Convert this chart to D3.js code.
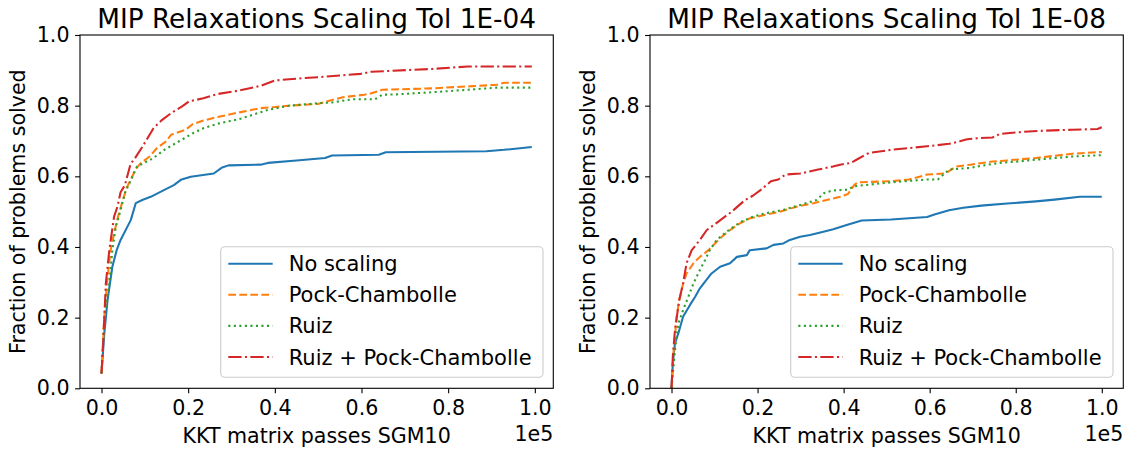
<!DOCTYPE html>
<html>
<head>
<meta charset="utf-8">
<script src="https://cdn.jsdelivr.net/npm/d3@7"></script>
<style>
  body { margin: 0; background: #fff; }
  text { font-family: "DejaVu Sans", sans-serif; }
</style>
</head>
<body>
<svg id="chart" width="1128" height="450"></svg>
<script>
// ---- data -------------------------------------------------------------
const seriesNames = ["No scaling", "Pock-Chambolle", "Ruiz", "Ruiz + Pock-Chambolle"];
const panelTitles = ["MIP Relaxations Scaling Tol 1E-04", "MIP Relaxations Scaling Tol 1E-08"];
const xTicks = [0, 20000, 40000, 60000, 80000, 100000];
const yTicks = [0, 0.2, 0.4, 0.6, 0.8, 1.0];

// [KKT matrix passes, fraction of problems solved]
const tol4NoScaling = [[0,0.042],[650,0.156],[1400,0.25],[2500,0.344],[3500,0.391],[4400,0.42],[6750,0.476],[7900,0.524],[9400,0.533],[11350,0.542],[14400,0.561],[16700,0.575],[18300,0.59],[20600,0.599],[25900,0.608],[27700,0.624],[29300,0.631],[36700,0.633],[38400,0.638],[45000,0.645],[51600,0.652],[53200,0.659],[64000,0.661],[65600,0.668],[88800,0.671],[92900,0.675],[99300,0.683]];
const tol4PockChambolle = [[0,0.042],[650,0.203],[1250,0.297],[2100,0.391],[2900,0.439],[3900,0.49],[5800,0.568],[6750,0.59],[7800,0.619],[9100,0.638],[11100,0.656],[12800,0.68],[14900,0.699],[16100,0.718],[19400,0.732],[21100,0.748],[23500,0.758],[26800,0.768],[31800,0.781],[36700,0.793],[40000,0.796],[43300,0.80],[49900,0.805],[53200,0.816],[55700,0.824],[60700,0.831],[62300,0.835],[64800,0.845],[76300,0.849],[91200,0.859],[92900,0.865],[99300,0.865]];
const tol4Ruiz = [[0,0.042],[700,0.203],[1800,0.297],[2500,0.391],[3300,0.457],[4300,0.5],[5400,0.553],[6800,0.59],[8200,0.628],[9900,0.638],[12000,0.652],[14500,0.675],[18600,0.704],[21100,0.722],[23500,0.736],[26800,0.749],[31800,0.762],[38400,0.788],[43300,0.80],[49900,0.807],[53200,0.809],[55700,0.814],[58200,0.818],[63100,0.818],[64800,0.831],[68100,0.832],[76300,0.838],[84600,0.845],[91200,0.851],[99300,0.851]];
const tol4RuizPockChambolle = [[0,0.042],[300,0.109],[650,0.203],[1000,0.297],[1800,0.391],[2900,0.486],[3700,0.515],[4400,0.555],[5400,0.575],[6750,0.637],[7400,0.645],[9500,0.685],[12000,0.736],[14000,0.76],[16100,0.779],[18600,0.798],[20200,0.812],[23500,0.821],[26800,0.833],[31800,0.843],[36700,0.856],[40000,0.871],[43300,0.875],[51600,0.882],[59800,0.89],[62300,0.896],[76300,0.904],[84600,0.911],[99300,0.911]];

const tol8NoScaling = [[0,0.0],[300,0.071],[800,0.127],[1600,0.156],[2700,0.203],[4300,0.236],[5500,0.259],[6600,0.283],[7800,0.302],[9300,0.325],[11300,0.344],[13600,0.354],[15200,0.372],[17500,0.377],[18200,0.391],[22100,0.396],[23700,0.406],[26000,0.41],[27500,0.42],[29900,0.429],[32200,0.434],[35300,0.443],[37600,0.45],[40700,0.462],[44200,0.475],[51000,0.478],[59400,0.485],[61100,0.492],[64500,0.504],[67800,0.511],[72000,0.517],[78000,0.523],[84700,0.529],[89000,0.534],[94900,0.542],[100000,0.542]];
const tol8PockChambolle = [[0,0.0],[100,0.015],[500,0.108],[1200,0.203],[1800,0.25],[2700,0.297],[3500,0.325],[5100,0.354],[6600,0.372],[8600,0.391],[10100,0.41],[11700,0.429],[13600,0.448],[15900,0.467],[18200,0.481],[21300,0.49],[25200,0.50],[29100,0.514],[33000,0.524],[36800,0.535],[39200,0.542],[41000,0.55],[42500,0.576],[43300,0.583],[51000,0.586],[55200,0.591],[59400,0.605],[63600,0.608],[66200,0.628],[69500,0.633],[74600,0.642],[78000,0.645],[84700,0.652],[93200,0.664],[100000,0.669]];
const tol8Ruiz = [[0,0.0],[100,0.015],[800,0.108],[1600,0.184],[2700,0.222],[3900,0.259],[5100,0.297],[6600,0.335],[7800,0.363],[8900,0.391],[10500,0.42],[12800,0.443],[14400,0.457],[16300,0.472],[19000,0.486],[21700,0.495],[26000,0.505],[29900,0.519],[33700,0.533],[35500,0.553],[37500,0.56],[40800,0.562],[42500,0.572],[51000,0.583],[59400,0.591],[61900,0.591],[64500,0.619],[69500,0.624],[72000,0.63],[76300,0.638],[80500,0.642],[84700,0.647],[93200,0.656],[100000,0.66]];
const tol8RuizPockChambolle = [[0,0.0],[300,0.089],[800,0.165],[1800,0.25],[2700,0.297],[3500,0.354],[4700,0.391],[6600,0.42],[8200,0.448],[10900,0.472],[14000,0.50],[17100,0.533],[18900,0.545],[21000,0.564],[23100,0.586],[24800,0.591],[26500,0.605],[29900,0.608],[34100,0.619],[37500,0.628],[39200,0.633],[41700,0.638],[43300,0.649],[45000,0.661],[45900,0.666],[51000,0.675],[59400,0.685],[64500,0.692],[67000,0.699],[68700,0.705],[71200,0.708],[74600,0.71],[76300,0.72],[78000,0.722],[83000,0.727],[86400,0.729],[93200,0.732],[99000,0.734],[100000,0.739]];

const panelSeries = [
  [tol4NoScaling, tol4PockChambolle, tol4Ruiz, tol4RuizPockChambolle],
  [tol8NoScaling, tol8PockChambolle, tol8Ruiz, tol8RuizPockChambolle]
];

// ---- styling ----------------------------------------------------------
const colors = ["#1f77b4", "#ff7f0e", "#2ca02c", "#d62728"];
const dashes = [null, "7.7,3.33", "2.08,3.44", "13.3,3.33,2.08,3.33"];
const tickSize = 20.6;
const labelSize = 20.6;
const legendSize = 21;
const titleSize = 26.3;
const lineWidth = 2.08;

const svg = d3.select("#chart");
const panels = [
  { left: 80, right: 553.3, top: 35, bottom: 388.3 },
  { left: 650, right: 1123.3, top: 35, bottom: 388.3 }
];

panels.forEach((p, pi) => {
  const series = panelSeries[pi];
  const xMax = d3.max(series, s => d3.max(s, d => d[0]));
  const xMin = 0;
  const pad = (xMax - xMin) * 0.05;
  const x = d3.scaleLinear().domain([xMin - pad, xMax + pad]).range([p.left, p.right]);
  const y = d3.scaleLinear().domain([0, 1]).range([p.bottom, p.top]);

  const g = svg.append("g");
  const clipId = "clip" + pi;
  g.append("clipPath").attr("id", clipId)
    .append("rect").attr("x", p.left).attr("y", p.top)
    .attr("width", p.right - p.left).attr("height", p.bottom - p.top);

  // curves
  const line = d3.line().x(d => x(d[0])).y(d => y(d[1]));
  series.forEach((s, si) => {
    g.append("path").datum(s)
      .attr("d", line)
      .attr("clip-path", `url(#${clipId})`)
      .attr("fill", "none")
      .attr("stroke", colors[si])
      .attr("stroke-width", lineWidth)
      .attr("stroke-linejoin", "round")
      .attr("stroke-dasharray", dashes[si]);
  });

  // axes
  const xAxis = d3.axisBottom(x).tickValues(xTicks)
    .tickFormat(d => (d / 1e5).toFixed(1))
    .tickSizeInner(4.9).tickSizeOuter(0).tickPadding(7);
  const gx = g.append("g").attr("transform", `translate(0,${p.bottom})`).call(xAxis);
  const yAxis = d3.axisLeft(y).tickValues(yTicks)
    .tickFormat(d => d.toFixed(1))
    .tickSizeInner(4.9).tickSizeOuter(0).tickPadding(5.6);
  const gy = g.append("g").attr("transform", `translate(${p.left},0)`).call(yAxis);
  [gx, gy].forEach(a => {
    a.select(".domain").remove();
    a.attr("font-family", null).attr("font-size", tickSize);
    a.selectAll(".tick line").attr("stroke", "#000").attr("stroke-width", 1.1);
    a.selectAll(".tick text").attr("fill", "#000");
  });

  // frame
  g.append("rect")
    .attr("x", p.left).attr("y", p.top)
    .attr("width", p.right - p.left).attr("height", p.bottom - p.top)
    .attr("fill", "none").attr("stroke", "#000").attr("stroke-width", 1.1);

  // title and axis labels
  g.append("text")
    .attr("x", (p.left + p.right) / 2).attr("y", 27.5)
    .attr("text-anchor", "middle").attr("font-size", titleSize)
    .text(panelTitles[pi]);
  g.append("text")
    .attr("x", (p.left + p.right) / 2).attr("y", 443)
    .attr("text-anchor", "middle").attr("font-size", labelSize)
    .text("KKT matrix passes SGM10");
  g.append("text")
    .attr("x", p.right).attr("y", 441)
    .attr("text-anchor", "end").attr("font-size", tickSize)
    .text("1e5");
  g.append("text")
    .attr("transform", `translate(${p.left - 55},${(p.top + p.bottom) / 2}) rotate(-90)`)
    .attr("text-anchor", "middle").attr("font-size", labelSize)
    .text("Fraction of problems solved");

  // legend
  const lg = g.append("g");
  const lx = p.left + 140.7, ly = 246.7, lw = p.right - 10.3 - lx, lh = 130.6;
  lg.append("rect")
    .attr("x", lx).attr("y", ly).attr("width", lw).attr("height", lh)
    .attr("rx", 4).attr("ry", 4)
    .attr("fill", "#fff").attr("fill-opacity", 0.8)
    .attr("stroke", "#cccccc").attr("stroke-width", 1.1);
  seriesNames.forEach((name, si) => {
    const cy = 263.7 + si * 31.1;
    lg.append("line")
      .attr("x1", lx + 7.6).attr("x2", lx + 52)
      .attr("y1", cy).attr("y2", cy)
      .attr("stroke", colors[si]).attr("stroke-width", lineWidth)
      .attr("stroke-dasharray", dashes[si]);
    lg.append("text")
      .attr("x", lx + 68).attr("y", cy + 7.5)
      .attr("font-size", legendSize)
      .text(name);
  });
});
</script>
</body>
</html>
